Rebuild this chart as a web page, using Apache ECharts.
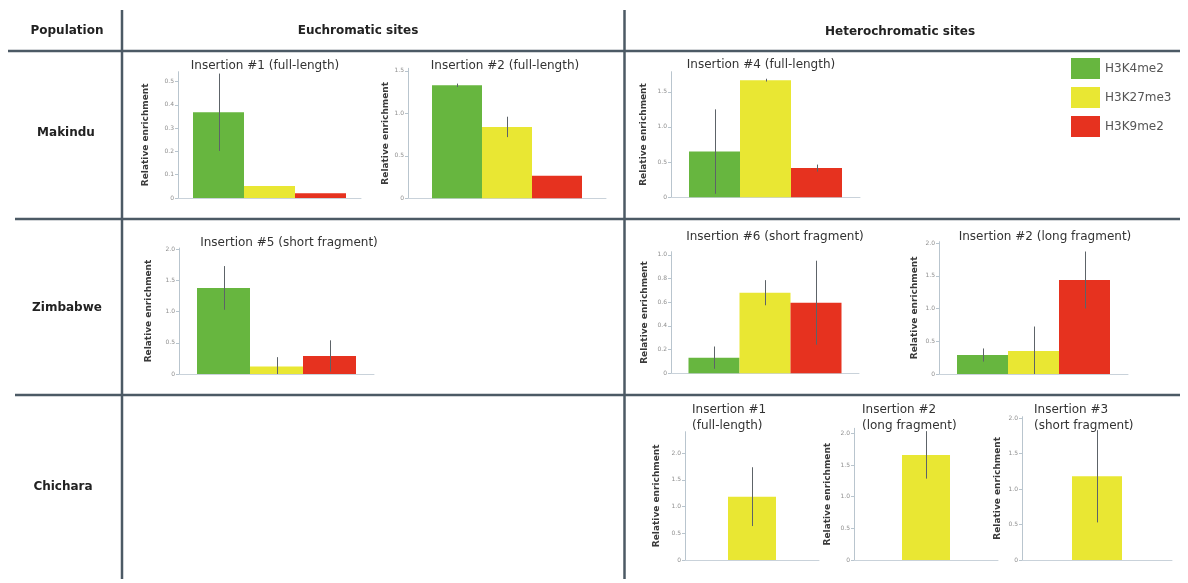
<!DOCTYPE html>
<html>
<head>
<meta charset="utf-8">
<script src="https://cdn.jsdelivr.net/npm/echarts@6/dist/echarts.min.js"></script>
<style>
html,body{margin:0;padding:0;background:#fff;}
#chart{width:1188px;height:583px;}
</style>
</head>
<body>
<div id="chart"></div>
<script>
// ---------- data ----------
const marks = ['H3K4me2', 'H3K27me3', 'H3K9me2'];
const populations = ['Makindu', 'Zimbabwe', 'Chichara'];
const columnHeaders = ['Population', 'Euchromatic sites', 'Heterochromatic sites'];
const axisName = 'Relative enrichment';

const makindu1Title = 'Insertion #1 (full-length)';
const makindu1Values = [0.368, 0.051, 0.020];
const makindu1Errors = [0.166, 0, 0];
const makindu1Ticks = [0, 0.1, 0.2, 0.3, 0.4, 0.5];

const makindu2Title = 'Insertion #2 (full-length)';
const makindu2Values = [1.33, 0.84, 0.265];
const makindu2Errors = [0.02, 0.12, 0];
const makindu2Ticks = [0, 0.5, 1.0, 1.5];

const makindu4Title = 'Insertion #4 (full-length)';
const makindu4Values = [0.65, 1.665, 0.415];
const makindu4Errors = [0.6, 0.02, 0.05];
const makindu4Ticks = [0, 0.5, 1.0, 1.5];

const zimbabwe5Title = 'Insertion #5 (short fragment)';
const zimbabwe5Values = [1.38, 0.12, 0.29];
const zimbabwe5Errors = [0.35, 0.15, 0.25];
const zimbabwe5Ticks = [0, 0.5, 1.0, 1.5, 2.0];

const zimbabwe6Title = 'Insertion #6 (short fragment)';
const zimbabwe6Values = [0.132, 0.68, 0.596];
const zimbabwe6Errors = [0.094, 0.106, 0.354];
const zimbabwe6Ticks = [0, 0.2, 0.4, 0.6, 0.8, 1.0];

const zimbabwe2Title = 'Insertion #2 (long fragment)';
const zimbabwe2Values = [0.29, 0.35, 1.435];
const zimbabwe2Errors = [0.1, 0.375, 0.435];
const zimbabwe2Ticks = [0, 0.5, 1.0, 1.5, 2.0];

const chichara1Title = ['Insertion #1', '(full-length)'];
const chichara1Values = [null, 1.185, null];
const chichara1Errors = [null, 0.55, null];
const chichara1Ticks = [0, 0.5, 1.0, 1.5, 2.0];

const chichara2Title = ['Insertion #2', '(long fragment)'];
const chichara2Values = [null, 1.66, null];
const chichara2Errors = [null, 0.375, null];
const chichara2Ticks = [0, 0.5, 1.0, 1.5, 2.0];

const chichara3Title = ['Insertion #3', '(short fragment)'];
const chichara3Values = [null, 1.18, null];
const chichara3Errors = [null, 0.65, null];
const chichara3Ticks = [0, 0.5, 1.0, 1.5, 2.0];

// ---------- styling / layout ----------
const markColors = ['#67b63f', '#e9e733', '#e6321f'];
const FONT = '"DejaVu Sans", Verdana, sans-serif';
const LINE = '#4c5a65';

const panels = [
  {title: makindu1Title, values: makindu1Values, errors: makindu1Errors, ticks: makindu1Ticks, max: 0.542,
   left: 178, top: 71.7, width: 183, height: 126.3, bw: 51, nameGap: 28, tx: 265, ty: 66},
  {title: makindu2Title, values: makindu2Values, errors: makindu2Errors, ticks: makindu2Ticks, max: 1.53,
   left: 408, top: 68.3, width: 198, height: 130, bw: 50, nameGap: 18, tx: 505, ty: 66},
  {title: makindu4Title, values: makindu4Values, errors: makindu4Errors, ticks: makindu4Ticks, max: 1.785,
   left: 671, top: 71.7, width: 189, height: 125.6, bw: 51, nameGap: 23, tx: 761, ty: 65},
  {title: zimbabwe5Title, values: zimbabwe5Values, errors: zimbabwe5Errors, ticks: zimbabwe5Ticks, max: 2.02,
   left: 179, top: 248, width: 195, height: 126, bw: 53, nameGap: 26, tx: 289, ty: 243},
  {title: zimbabwe6Title, values: zimbabwe6Values, errors: zimbabwe6Errors, ticks: zimbabwe6Ticks, max: 1.026,
   left: 671, top: 251.7, width: 188, height: 121.6, bw: 51, nameGap: 22, tx: 775, ty: 237},
  {title: zimbabwe2Title, values: zimbabwe2Values, errors: zimbabwe2Errors, ticks: zimbabwe2Ticks, max: 2.02,
   left: 939, top: 241.7, width: 189, height: 132.3, bw: 51, nameGap: 20, tx: 1045, ty: 237},
  {title: chichara1Title, values: chichara1Values, errors: chichara1Errors, ticks: chichara1Ticks, max: 2.4,
   left: 685, top: 431.7, width: 134, height: 128.3, bw: 48, nameGap: 24, tx: 692, ty: 410},
  {title: chichara2Title, values: chichara2Values, errors: chichara2Errors, ticks: chichara2Ticks, max: 2.08,
   left: 854, top: 428.3, width: 144, height: 131.7, bw: 48, nameGap: 22, tx: 862, ty: 410},
  {title: chichara3Title, values: chichara3Values, errors: chichara3Errors, ticks: chichara3Ticks, max: 2.02,
   left: 1022, top: 416.7, width: 150, height: 143.3, bw: 50, nameGap: 20, tx: 1034, ty: 410}
];

const grid = [], xAxis = [], yAxis = [], series = [], graphic = [];

function fmt(v) { return v === 0 ? '0' : v.toFixed(1); }

panels.forEach((p, gi) => {
  grid.push({left: p.left, top: p.top, width: p.width, height: p.height, containLabel: false, outerBoundsMode: 'none'});
  xAxis.push({
    type: 'category', gridIndex: gi, data: ['x'],
    axisLabel: {show: false}, axisTick: {show: false},
    axisLine: {show: true, lineStyle: {color: '#c9d2da', width: 1}}
  });
  yAxis.push({
    type: 'value', gridIndex: gi, min: 0, max: p.max,
    name: axisName, nameLocation: 'middle', nameGap: p.nameGap, nameRotate: 90,
    nameTextStyle: {fontFamily: FONT, fontSize: 9, fontWeight: 'bold', color: '#3a3a3a'},
    axisLine: {show: true, lineStyle: {color: '#b9c5ce', width: 1}},
    axisTick: {show: true, length: 3, customValues: p.ticks, lineStyle: {color: '#b9c5ce'}},
    axisLabel: {show: true, customValues: p.ticks, formatter: fmt, fontFamily: FONT, fontSize: 6, color: '#8f8f8f', margin: 4},
    splitLine: {show: false}
  });
  const present = [0, 1, 2].filter(i => p.values[i] != null);
  const n = present.length;
  present.forEach(i => {
    series.push({
      type: 'bar', name: marks[i], xAxisIndex: gi, yAxisIndex: gi,
      data: [p.values[i]], barWidth: p.bw, barGap: '0%',
      itemStyle: {color: markColors[i]}, silent: true
    });
  });
  const errData = [];
  present.forEach((i, k) => {
    if (p.errors[i] > 0) errData.push([0, p.values[i], p.errors[i], k - (n - 1) / 2]);
  });
  const bw = p.bw;
  series.push({
    type: 'custom', xAxisIndex: gi, yAxisIndex: gi, silent: true, z: 5,
    encode: {x: 0, y: 1},
    data: errData,
    renderItem: function (params, api) {
      const v = api.value(1), e = api.value(2);
      const c = api.coord([0, v]);
      const x = Math.round(c[0] + api.value(3) * bw) + 0.5;
      const yTop = api.coord([0, v + e])[1];
      const yBot = api.coord([0, Math.max(0, v - e)])[1];
      return {type: 'line', shape: {x1: x, y1: yTop, x2: x, y2: yBot}, style: {stroke: '#5d6368', lineWidth: 1}};
    }
  });
  // titles
  if (Array.isArray(p.title)) {
    p.title.forEach((t, li) => graphic.push({
      type: 'text', x: p.tx, y: p.ty + li * 16,
      style: {text: t, font: '12px ' + FONT, fill: '#333', align: 'left', verticalAlign: 'middle'}
    }));
  } else {
    graphic.push({
      type: 'text', x: p.tx, y: p.ty,
      style: {text: p.title, font: '12px ' + FONT, fill: '#333', align: 'center', verticalAlign: 'middle'}
    });
  }
});

// header & row labels
const headerPos = [[67, 31], [358, 31], [900, 32]];
columnHeaders.forEach((h, i) => graphic.push({
  type: 'text', x: headerPos[i][0], y: headerPos[i][1],
  style: {text: h, font: 'bold 12px ' + FONT, fill: '#222', align: 'center', verticalAlign: 'middle'}
}));
const rowPos = [[66, 133], [67, 308], [63, 487]];
populations.forEach((r, i) => graphic.push({
  type: 'text', x: rowPos[i][0], y: rowPos[i][1],
  style: {text: r, font: 'bold 12px ' + FONT, fill: '#222', align: 'center', verticalAlign: 'middle'}
}));

// table lines
const tableLines = [
  [8, 51, 1180, 51], [15, 219, 1180, 219], [15, 395, 1180, 395],
  [122, 10, 122, 579], [624.5, 10, 624.5, 579]
];
tableLines.forEach(l => graphic.push({
  type: 'line', shape: {x1: l[0], y1: l[1], x2: l[2], y2: l[3]},
  style: {stroke: LINE, lineWidth: 2.5}, silent: true
}));

const chart = echarts.init(document.getElementById('chart'), null, {renderer: 'canvas'});
chart.setOption({
  animation: false,
  backgroundColor: '#ffffff',
  grid, xAxis, yAxis, series, graphic,
  legend: {
    data: marks, orient: 'vertical', left: 1071, top: 58, padding: 0,
    itemWidth: 29, itemHeight: 21, itemGap: 8, icon: 'rect',
    selectedMode: false,
    textStyle: {fontFamily: FONT, fontSize: 12, color: '#555'}
  }
});
</script>
</body>
</html>
